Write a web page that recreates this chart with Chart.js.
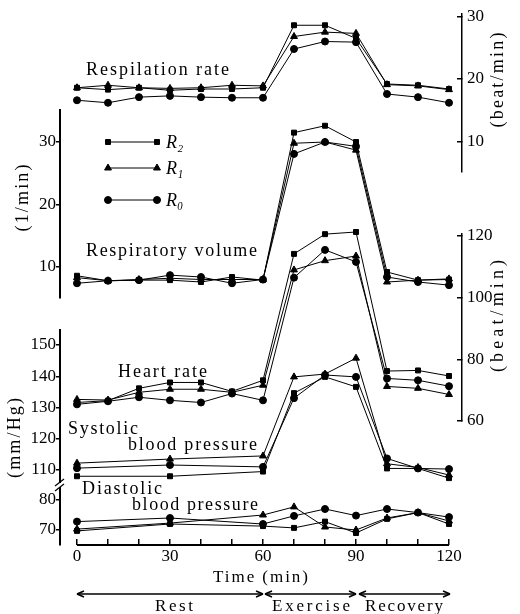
<!DOCTYPE html>
<html>
<head>
<meta charset="utf-8">
<script src="https://cdn.jsdelivr.net/npm/chart.js@4.4.1/dist/chart.umd.min.js"></script>
<style>
  html, body { margin: 0; padding: 0; background: #fff; }
  canvas { display: block; }
</style>
</head>
<body>
<canvas id="graph" width="520" height="614"></canvas>
<script>
// time (min)
const times = [0, 10, 20, 30, 40, 50, 60, 70, 80, 90, 100, 110, 120];
const timesBP = [0, 30, 60, 70, 80, 90, 100, 110, 120];

// respiration rate (beat/min)
const rate_R2 = [18.6, 18.3, 18.6, 18.2, 18.4, 18.4, 18.6, 28.6, 28.6, 26.5, 19.2, 19.0, 18.4];
const rate_R1 = [18.6, 19.0, 18.6, 18.5, 18.6, 19.0, 18.9, 26.8, 27.5, 27.3, 19.1, 18.9, 18.3];
const rate_R0 = [16.6, 16.2, 17.1, 17.3, 17.1, 17.0, 17.0, 24.8, 26.0, 25.9, 17.6, 17.1, 16.2];

// respiratory volume (1/min)
const vol_R2 = [8.6, 7.8, 7.9, 7.9, 7.6, 8.4, 7.9, 31.5, 32.6, 30.0, 9.2, 7.9, 8.0];
const vol_R1 = [8.3, 7.8, 8.0, 8.2, 8.0, 8.0, 8.0, 29.8, 30.0, 28.7, 7.6, 7.9, 8.1];
const vol_R0 = [7.4, 7.8, 7.9, 8.7, 8.4, 7.4, 8.0, 28.1, 30.0, 29.3, 8.4, 7.6, 7.1];

// heart rate (beat/min)
const hr_R2 = [66.0, 66.6, 70.6, 72.5, 72.5, 69.6, 73.2, 114.2, 120.6, 121.3, 76.2, 76.4, 74.6];
const hr_R1 = [67.0, 66.8, 69.3, 70.3, 70.3, 69.3, 71.6, 109.0, 112.0, 113.5, 71.2, 70.6, 68.6];
const hr_R0 = [65.4, 66.4, 67.7, 66.7, 66.0, 68.9, 66.7, 106.5, 115.5, 111.6, 73.8, 73.2, 71.3];

// systolic blood pressure (mm/Hg)
const sys_R2 = [108.0, 108.0, 109.5, 134.6, 139.8, 136.6, 110.5, 110.5, 107.4];
const sys_R1 = [112.2, 113.5, 114.5, 139.8, 140.7, 145.8, 112.0, 110.8, 108.4];
const sys_R0 = [110.6, 111.6, 111.0, 133.0, 140.4, 139.8, 113.7, 110.5, 110.3];

// diastolic blood pressure (mm/Hg)
const dia_R2 = [69.7, 72.0, 71.3, 70.7, 72.8, 69.0, 73.7, 75.8, 72.0];
const dia_R1 = [70.3, 72.3, 75.0, 77.7, 71.0, 70.0, 74.0, 75.8, 73.0];
const dia_R0 = [72.8, 74.0, 72.0, 74.7, 77.0, 74.8, 77.0, 75.8, 74.3];

// tick labels
const timeTicks = [0, 10, 20, 30, 40, 50, 60, 70, 80, 90, 100, 110, 120];
const rateTicks = [10, 20, 30];
const volTicks = [10, 20, 30];
const hrTicks = [60, 80, 100, 120];
const sysTicks = [110, 120, 130, 140, 150];
const diaTicks = [70, 80];

const SERIF = '"Liberation Serif", "DejaVu Serif", serif';
Chart.defaults.font.family = SERIF;
Chart.defaults.font.size = 17;
Chart.defaults.color = '#000';

function series(label, xs, ys, axis, style) {
    return {
        label: label,
        yAxisID: axis,
        pointStyle: style,
        pointRadius: style === 'triangle' ? 4 : 3.5,
        clip: false,
        data: ys.map((v, i) => ({x: xs[i], y: v}))
    };
}

// y axis in a vertical stack; weight in px of the band
function yAxis(pos, stack, band, order, min, max, ticks) {
    return {
        type: 'linear',
        position: pos,
        stack: stack,
        stackWeight: band,
        weight: order,
        min: min,
        max: max,
        afterBuildTicks: s => { s.ticks = ticks.map(v => ({value: v})); },
        afterFit: s => {
            s.width = pos === 'left' ? 60 : 58;
            s.paddingTop = 0;
            s.paddingBottom = 0;
        },
        border: {display: true, color: '#000', width: pos === 'left' ? 2 : 1.5},
        grid: {drawOnChartArea: false, color: '#000', lineWidth: 1.5, tickLength: pos === 'left' ? 4 : -5},
        ticks: {padding: pos === 'left' ? 0 : 10, autoSkip: false, font: {size: 17}, color: '#000'}
    };
}

function spacer(pos, stack, band, order) {
    return {
        type: 'linear', position: pos, stack: stack, stackWeight: band, weight: order,
        min: 0, max: 1,
        afterFit: s => { s.width = 0; s.paddingTop = 0; s.paddingBottom = 0; },
        border: {display: false},
        grid: {display: false},
        ticks: {display: false}
    };
}

function seg(ctx, x1, y1, x2, y2) {
    ctx.beginPath();
    ctx.moveTo(x1, y1);
    ctx.lineTo(x2, y2);
    ctx.stroke();
}

// text stretched to a given width
function spaced(ctx, text, x, y, w) {
    ctx.letterSpacing = '0px';
    const m = ctx.measureText(text).width;
    const n = [...text].length;
    ctx.letterSpacing = (n > 1 ? (w - m) / (n - 1) : 0) + 'px';
    ctx.textAlign = 'left';
    ctx.textBaseline = 'middle';
    ctx.fillText(text, x, y);
    ctx.letterSpacing = '0px';
}

function vertical(ctx, text, cx, cy, h) {
    ctx.save();
    ctx.translate(cx, cy);
    ctx.rotate(-Math.PI / 2);
    spaced(ctx, text, -h / 2, 0, h);
    ctx.restore();
}

function arrow(ctx, x1, x2, y) {
    seg(ctx, x1, y, x2, y);
    seg(ctx, x1, y, x1 + 7, y - 3);
    seg(ctx, x1, y, x1 + 7, y + 3);
    seg(ctx, x2, y, x2 - 7, y - 3);
    seg(ctx, x2, y, x2 - 7, y + 3);
}

const decor = {
    id: 'decor',
    afterDraw(chart) {
        const ctx = chart.ctx;
        const x = chart.scales.x;
        const yb = chart.chartArea.bottom;
        ctx.save();
        ctx.strokeStyle = '#000';
        ctx.fillStyle = '#000';

        // time axis line
        ctx.lineWidth = 2;
        seg(ctx, x.getPixelForValue(0), yb, x.getPixelForValue(120), yb);

        // break of the mm/Hg axis
        const bx = chart.scales.yDia.right, by = chart.scales.yDia.top;
        ctx.fillStyle = '#fff';
        ctx.fillRect(bx - 3, by - 2, 6, 4);
        ctx.fillStyle = '#000';
        ctx.lineWidth = 1.2;
        seg(ctx, bx - 5, by + 1, bx + 4, by - 6);
        seg(ctx, bx - 5, by + 6, bx + 4, by - 1);

        // legend
        const legend = [['rect', 'R₂', 142], ['triangle', 'R₁', 168], ['circle', 'R₀', 200]];
        legend.forEach(([style, text, y]) => {
            ctx.lineWidth = 1;
            seg(ctx, 108, y, 157, y);
            [108, 157].forEach(px => Chart.helpers.drawPoint(ctx,
                {pointStyle: style, radius: style === 'triangle' ? 4 : 3.5, borderWidth: 1, rotation: 0}, px, y));
            ctx.font = 'italic 18px ' + SERIF;
            ctx.textAlign = 'left';
            ctx.textBaseline = 'middle';
            ctx.fillText(text, 166, y + 1);
        });

        // labels in the plot
        ctx.font = '18px ' + SERIF;
        spaced(ctx, 'Respilation rate', 86, 70, 143);
        spaced(ctx, 'Respiratory volume', 86, 251, 171);
        spaced(ctx, 'Heart rate', 118, 372, 89);
        spaced(ctx, 'Systolic', 68, 429, 70);
        spaced(ctx, 'blood pressure', 128, 445, 129);
        spaced(ctx, 'Diastolic', 82, 489, 80);
        spaced(ctx, 'blood pressure', 132, 505, 126);

        // axis titles
        ctx.font = '17px ' + SERIF;
        spaced(ctx, 'Time (min)', 213, 578, 95);
        ctx.font = '18px ' + SERIF;
        vertical(ctx, '(1/min)', 23, 198, 67);
        vertical(ctx, '(mm/Hg)', 15, 438, 80);
        vertical(ctx, '(beat/min)', 498, 80, 95);
        vertical(ctx, '(beat/min)', 498, 316, 112);

        // phases
        ctx.lineWidth = 1.5;
        const ay = 594;
        arrow(ctx, x.getPixelForValue(0), x.getPixelForValue(60), ay);
        arrow(ctx, x.getPixelForValue(60) + 2, x.getPixelForValue(90), ay);
        arrow(ctx, x.getPixelForValue(90) + 3, x.getPixelForValue(120) + 1, ay);
        ctx.font = '17px ' + SERIF;
        spaced(ctx, 'Rest', 155, 607, 38);
        spaced(ctx, 'Exercise', 272, 607, 78);
        spaced(ctx, 'Recovery', 365, 607, 78);
        ctx.restore();
    }
};

new Chart(document.getElementById('graph'), {
    type: 'line',
    data: {
        datasets: [
            series('rate R2', times, rate_R2, 'yRate', 'rect'),
            series('rate R1', times, rate_R1, 'yRate', 'triangle'),
            series('rate R0', times, rate_R0, 'yRate', 'circle'),
            series('vol R2', times, vol_R2, 'yVol', 'rect'),
            series('vol R1', times, vol_R1, 'yVol', 'triangle'),
            series('vol R0', times, vol_R0, 'yVol', 'circle'),
            series('hr R2', times, hr_R2, 'yHr', 'rect'),
            series('hr R1', times, hr_R1, 'yHr', 'triangle'),
            series('hr R0', times, hr_R0, 'yHr', 'circle'),
            series('sys R2', timesBP, sys_R2, 'ySys', 'rect'),
            series('sys R1', timesBP, sys_R1, 'ySys', 'triangle'),
            series('sys R0', timesBP, sys_R0, 'ySys', 'circle'),
            series('dia R2', timesBP, dia_R2, 'yDia', 'rect'),
            series('dia R1', timesBP, dia_R1, 'yDia', 'triangle'),
            series('dia R0', timesBP, dia_R0, 'yDia', 'circle')
        ]
    },
    options: {
        responsive: false,
        animation: false,
        layout: {padding: {top: 14, left: 0, right: 0, bottom: 0}},
        elements: {
            line: {borderColor: '#000', borderWidth: 1, tension: 0},
            point: {backgroundColor: '#000', borderColor: '#000', borderWidth: 1}
        },
        plugins: {
            legend: {display: false},
            tooltip: {enabled: false}
        },
        scales: {
            x: {
                type: 'linear',
                position: 'bottom',
                min: -5.48,
                max: 124.19,
                afterBuildTicks: s => { s.ticks = timeTicks.map(v => ({value: v})); },
                afterFit: s => { s.height = 69; s.paddingLeft = 0; s.paddingRight = 0; },
                border: {display: false},
                grid: {drawOnChartArea: false, color: '#000', lineWidth: 1.5, tickLength: -6},
                ticks: {
                    padding: 7,
                    autoSkip: false,
                    maxRotation: 0,
                    font: {size: 17},
                    callback: v => v % 30 === 0 ? v : ''
                }
            },
            // left column, top to bottom
            padL1: spacer('left', 'L', 96, 5),
            yVol: yAxis('left', 'L', 188, 4, 5.04, 35.12, volTicks),
            padL2: spacer('left', 'L', 32, 3),
            ySys: yAxis('left', 'L', 155, 2, 105.2, 154.8, sysTicks),
            yDia: yAxis('left', 'L', 60, 1, 65, 85, diaTicks),
            // right column, top to bottom
            yRate: yAxis('right', 'R', 158, 1, 5.12, 30.4, rateTicks),
            padR1: spacer('right', 'R', 62, 2),
            yHr: yAxis('right', 'R', 187, 3, 60, 120.65, hrTicks),
            padR2: spacer('right', 'R', 124, 4)
        }
    },
    plugins: [decor]
});
</script>
</body>
</html>
